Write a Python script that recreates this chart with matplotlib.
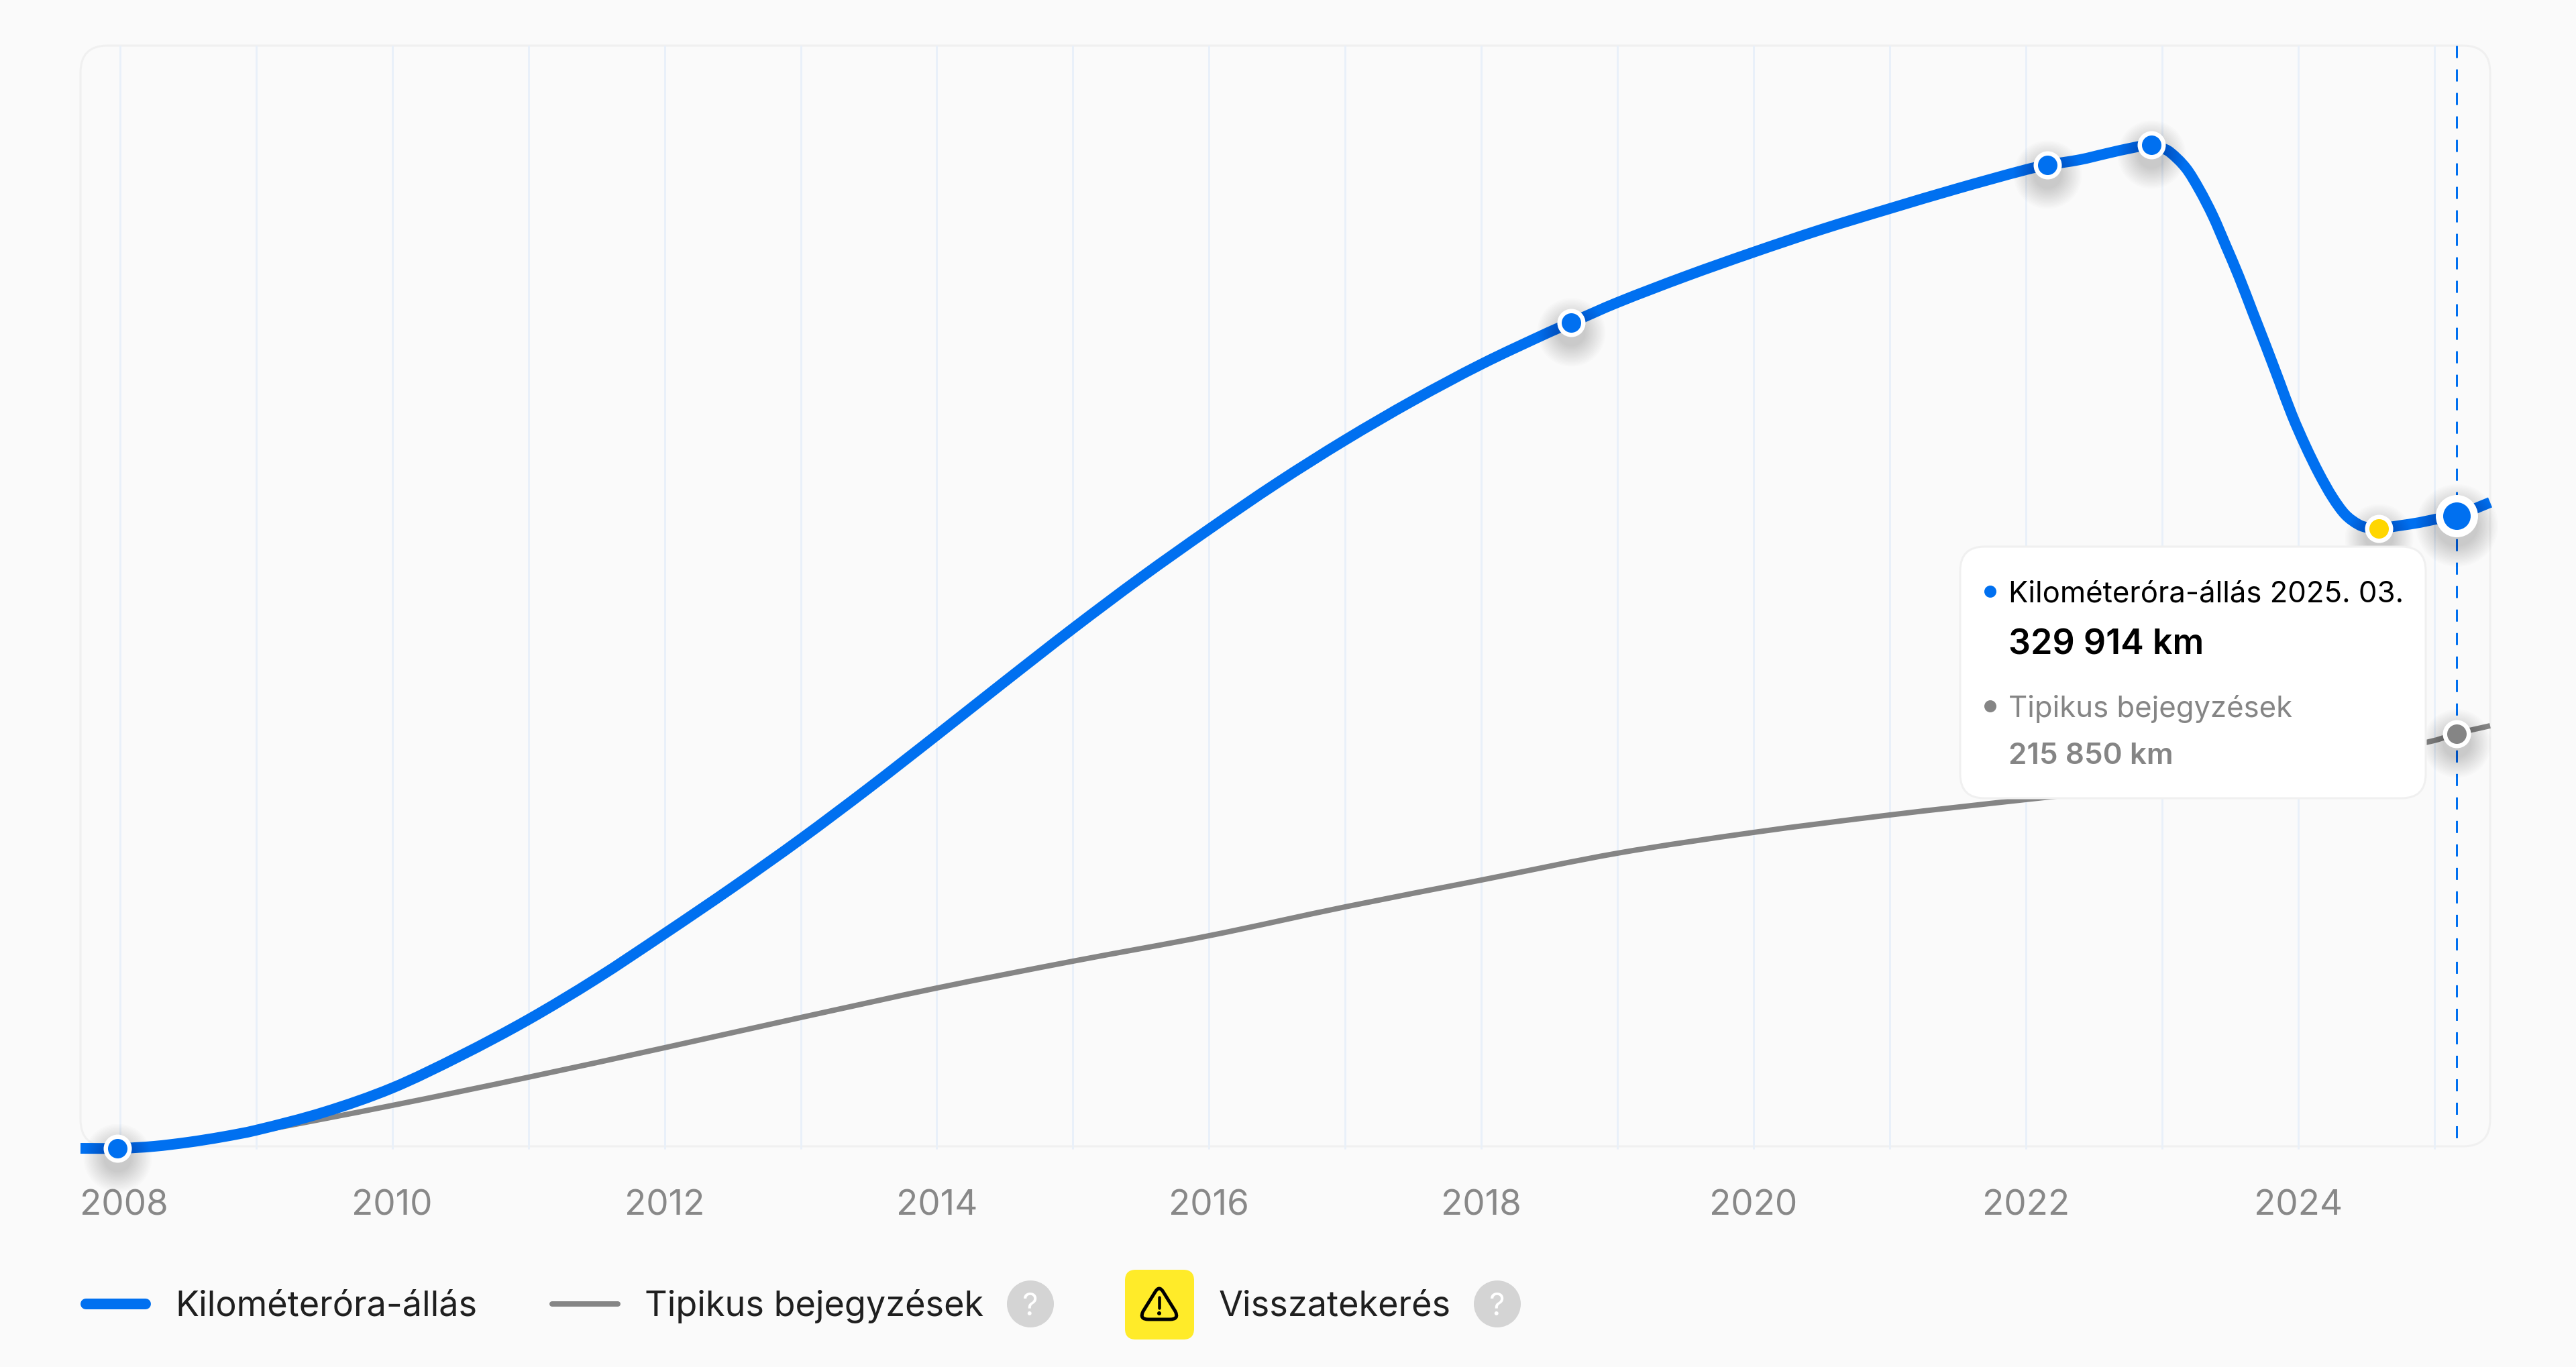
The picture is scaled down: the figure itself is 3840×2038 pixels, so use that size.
import matplotlib
matplotlib.use('Agg')
import matplotlib.pyplot as plt
import matplotlib.transforms as mtrans
from matplotlib.patches import FancyBboxPatch, Circle, PathPatch
from matplotlib.path import Path

plt.rcParams['font.family'] = ['Inter', 'DejaVu Sans']

# odometer readings (year, km)
odo_years = [2007.71, 2008.00, 2008.25, 2008.5, 2008.75, 2009.0, 2009.5, 2010.0, 2010.5, 2011.0, 2011.5,
             2012.0, 2012.5, 2013.0, 2013.5, 2014.0, 2014.5, 2015.0, 2015.5, 2016.0, 2016.5, 2017.0,
             2017.5, 2018.0, 2018.5, 2018.66, 2019.0, 2019.5, 2020.0, 2020.5, 2021.0, 2021.5,
             2022.0, 2022.16, 2022.40, 2022.59, 2022.79, 2022.921, 2022.990, 2023.059, 2023.177, 2023.275,
             2023.374, 2023.468, 2023.566, 2023.665, 2023.763, 2023.862, 2023.955, 2024.054, 2024.153, 2024.251,
             2024.345, 2024.443, 2024.517, 2024.591, 2024.734, 2024.892, 2025.010, 2025.165, 2025.41]
odo_km = [-1230, -1230, -180, 1930, 4740, 8250, 17720, 30360, 47210, 66160, 87570,
          111090, 135310, 160580, 187260, 214990, 243070, 270800, 297470, 322740, 346960, 369430,
          390140, 409090, 425940, 430850, 441380, 455070, 467710, 479640, 490520, 501050,
          510880, 513340, 516150, 519310, 522460, 523870, 522460, 520010, 511580, 500350,
          486660, 471220, 454720, 436470, 418570, 399960, 382410, 366270, 351880, 339590,
          330470, 325200, 323450, 323100, 324500, 326250, 328010, 329914, 336780]

# typical entries
typ_years = [2007.71, 2008.00, 2008.25, 2008.5, 2009, 2010, 2011, 2012, 2013, 2014, 2015, 2016, 2017, 2018,
             2019, 2020, 2021, 2022, 2023, 2024, 2024.5, 2025, 2025.165, 2025.41]
typ_km = [-1230, -1230, -180, 1930, 7550, 21240, 35980, 51420, 67220, 82660, 96700, 110040, 125130, 139170,
          153210, 164090, 173220, 181290, 189010, 197090, 204460, 212180, 215850, 219900]

# service entries marked on the line
entry_years = [2007.98, 2018.66, 2022.16, 2022.921]
entry_km = [-1230, 430850, 513340, 523870]
rollback_year, rollback_km = 2024.591, 323100
cur_year, cur_km, cur_typ_km = 2025.165, 329914, 215850

major_years = list(range(2008, 2026, 2))
minor_years = list(range(2009, 2026, 2))

BLUE = '#0070F0'
GRAY = '#858585'
BG = '#FAFAFA'
GRID = '#E9F0F9'
W, H = 3840, 2038


def pt(px):
    return px * 0.72


def smooth_path(xs, ys):
    # bezier segments through the read points so the line has no corners
    slopes = []
    for i in range(len(xs)):
        a, b = max(i - 1, 0), min(i + 1, len(xs) - 1)
        slopes.append((ys[b] - ys[a]) / (xs[b] - xs[a]))
    verts = [(xs[0], ys[0])]
    codes = [Path.MOVETO]
    for i in range(len(xs) - 1):
        dx = (xs[i + 1] - xs[i]) / 3
        verts += [(xs[i] + dx, ys[i] + slopes[i] * dx), (xs[i + 1] - dx, ys[i + 1] - slopes[i + 1] * dx),
                  (xs[i + 1], ys[i + 1])]
        codes += [Path.CURVE4] * 3
    return Path(verts, codes)


fig = plt.figure(figsize=(W / 100, H / 100), dpi=100, facecolor=BG)

# backdrop and overlay are plain pixel axes
back = fig.add_axes([0, 0, 1, 1], zorder=0)
top = fig.add_axes([0, 0, 1, 1], zorder=2)
for a in (back, top):
    a.set_xlim(0, W)
    a.set_ylim(H, 0)
    a.axis('off')

back.add_patch(FancyBboxPatch((120, 68), 3592, 1641, boxstyle='round,pad=0,rounding_size=40',
                              fc=BG, ec='#F0F0F0', lw=pt(3)))

ax = fig.add_axes([120 / W, 1 - 1709 / H, 3592 / W, 1641 / H], zorder=1)
ax.patch.set_alpha(0)
for s in ax.spines.values():
    s.set_visible(False)
ax.set_xlim(2007.71, 2025.41)
ax.set_ylim(-175, 575800)
ax.set_yticks([])
ax.set_xticks(major_years)
ax.set_xticks(minor_years, minor=True)
ax.set_xticklabels([str(y) for y in major_years])
ax.grid(True, axis='x', which='both', color=GRID, lw=pt(3))
ax.tick_params(axis='x', which='both', length=pt(4), width=pt(3), color=GRID)
ax.tick_params(axis='x', which='major', labelsize=pt(53), labelcolor='#888888', pad=pt(98))
ax.set_axisbelow(True)
for lab in ax.get_xticklabels():
    lab.set_verticalalignment('baseline')
first = ax.get_xticklabels()[0]
first.set_transform(first.get_transform() + mtrans.ScaledTranslation(6 / 100, 0, fig.dpi_scale_trans))

ax.plot([cur_year, cur_year], [575800, -175], color=BLUE, lw=pt(3), ls=(0, (6, 5.67)),
        dash_capstyle='butt', zorder=2)
ax.add_patch(PathPatch(smooth_path(typ_years, typ_km), fc='none', ec=GRAY, lw=pt(8), capstyle='butt',
                       clip_on=False, zorder=3))
ax.add_patch(PathPatch(smooth_path(odo_years, odo_km), fc='none', ec=BLUE, lw=pt(16), capstyle='butt',
                       clip_on=False, zorder=4))

shadow = ax.transData + mtrans.ScaledTranslation(0, -14 / 100, fig.dpi_scale_trans)


def dot(x, y, outer, inner, color):
    for i in range(16):
        ax.plot(x, y, 'o', ms=pt(outer + 60 - i * 4), color='k', alpha=0.013, mew=0,
                transform=shadow, clip_on=False, zorder=5)
    ax.plot(x, y, 'o', ms=pt(outer), color='white', mew=0, clip_on=False, zorder=6)
    ax.plot(x, y, 'o', ms=pt(inner), color=color, mew=0, clip_on=False, zorder=7)


for x, y in zip(entry_years, entry_km):
    dot(x, y, 42, 29, BLUE)
dot(rollback_year, rollback_km, 42, 29, '#FFD600')
dot(cur_year, cur_typ_km, 42, 29, GRAY)
dot(cur_year, cur_km, 63, 41, BLUE)

# tooltip
top.add_patch(FancyBboxPatch((2922, 815), 694, 375, boxstyle='round,pad=0,rounding_size=36',
                             fc='white', ec='#F0F0F0', lw=pt(3)))
top.add_patch(Circle((2967, 882), 9, fc=BLUE, ec='none'))
top.add_patch(Circle((2967, 1053), 9, fc=GRAY, ec='none'))
top.text(2994, 898, 'Kilométeróra-állás 2025. 03.', fontsize=pt(43.7), color='black', va='baseline')
top.text(2994, 975, '329 914 km', fontsize=pt(52), color='black', va='baseline', fontweight='semibold')
top.text(2994, 1069, 'Tipikus bejegyzések', fontsize=pt(43.7), color=GRAY, va='baseline')
top.text(2994, 1139, '215 850 km', fontsize=pt(44), color=GRAY, va='baseline', fontweight='semibold')

# legend
top.plot([128, 217], [1944, 1944], color=BLUE, lw=pt(16), solid_capstyle='round')
top.plot([823, 921], [1944, 1944], color=GRAY, lw=pt(8), solid_capstyle='round')
top.text(261, 1962, 'Kilométeróra-állás', fontsize=pt(52.2), color='#1F1F1F', va='baseline')
top.text(961, 1962, 'Tipikus bejegyzések', fontsize=pt(52.2), color='#1F1F1F', va='baseline')
top.text(1817, 1962, 'Visszatekerés', fontsize=pt(52.2), color='#1F1F1F', va='baseline')
for cx in (1536, 2232):
    top.add_patch(Circle((cx, 1944), 35, fc='#D4D4D4', ec='none'))
    top.text(cx, 1944, '?', fontsize=pt(46), color='white', ha='center', va='center_baseline')

top.add_patch(FancyBboxPatch((1677, 1893), 103, 104, boxstyle='round,pad=0,rounding_size=16',
                             fc='#FFEB29', ec='none'))
tri = Path([(1722, 1926), (1728, 1916), (1734, 1926), (1752, 1955), (1758, 1967), (1744, 1967),
            (1712, 1967), (1698, 1967), (1704, 1955), (1722, 1926)],
           [Path.MOVETO, Path.CURVE3, Path.CURVE3, Path.LINETO, Path.CURVE3, Path.CURVE3,
            Path.LINETO, Path.CURVE3, Path.CURVE3, Path.LINETO])
top.add_patch(PathPatch(tri, fc='none', ec='black', lw=pt(5)))
top.plot([1728, 1728], [1934, 1950], color='black', lw=pt(4.5), solid_capstyle='round')
top.add_patch(Circle((1728, 1958), 3, fc='black', ec='none'))

fig.savefig('out.png', dpi=100, facecolor=BG)
